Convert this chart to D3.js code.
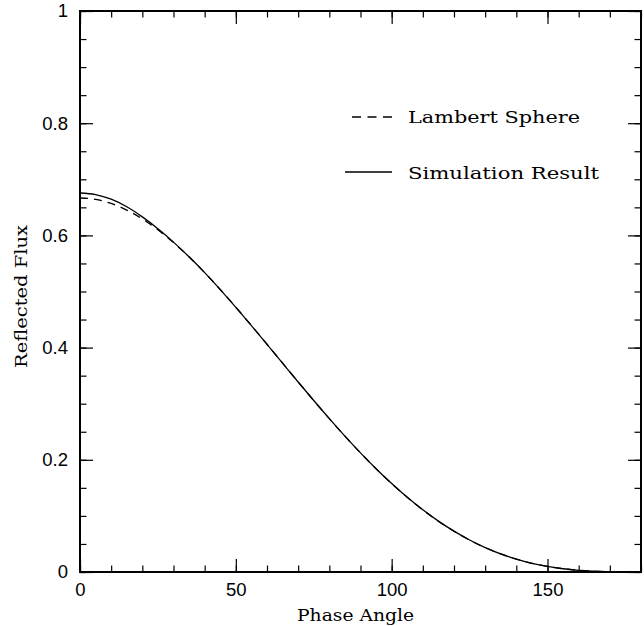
<!DOCTYPE html>
<html><head><meta charset="utf-8">
<script src="https://cdn.jsdelivr.net/npm/d3@7"></script>
<style>body{margin:0;background:#fff}svg{display:block}</style>
</head><body>
<svg id="c" width="644" height="626"></svg>
<script>
const angles = [0,5,10,15,20,25,30,35,40,45,50,55,60,65,70,75,80,85,90,95,100,105,110,115,120,125,130,135,140,145,150,155,160,165,170,175,180];
const lambert = [0.6667,0.6642,0.6569,0.6452,0.6294,0.6100,0.5872,0.5616,0.5336,0.5036,0.4721,0.4394,0.4060,0.3723,0.3387,0.3056,0.2733,0.2421,0.2122,0.1840,0.1575,0.1331,0.1107,0.0906,0.0727,0.0570,0.0435,0.0322,0.0229,0.0155,0.0099,0.0058,0.0030,0.0013,0.0004,0.0001,0.0000];
const simulation = [0.6756,0.6728,0.6645,0.6510,0.6330,0.6118,0.5880,0.5618,0.5336,0.5034,0.4718,0.4391,0.4058,0.3722,0.3387,0.3057,0.2735,0.2423,0.2124,0.1842,0.1577,0.1333,0.1109,0.0907,0.0728,0.0571,0.0436,0.0322,0.0229,0.0155,0.0099,0.0058,0.0030,0.0013,0.0004,0.0001,0.0000];
const xMajor = [0,50,100,150];
const yMajor = [0,0.2,0.4,0.6,0.8,1];
const yMajorLabels = ["0","0.2","0.4","0.6","0.8","1"];
const xTitle = "Phase Angle";
const yTitle = "Reflected Flux";
const legendLabels = ["Lambert Sphere","Simulation Result"];

const svg = d3.select("#c");
const L=80, R=641, T=11, B=572;
const x = d3.scaleLinear().domain([0,180]).range([L,R]);
const y = d3.scaleLinear().domain([0,1]).range([B,T]);
const xMinor = d3.range(0,181,10);
const yMinor = d3.range(0,1.0001,0.05);

const tickFont = "'Liberation Sans', Arial, sans-serif";
const serif = "'DejaVu Serif', serif";

function styleAxis(g){ g.select(".domain").remove(); g.selectAll("line").attr("stroke","#000").attr("stroke-width",1.2); }

// minor ticks
svg.append("g").attr("transform",`translate(0,${B})`).call(d3.axisBottom(x).tickValues(xMinor).tickSize(-6.5).tickFormat("")).call(styleAxis);
svg.append("g").attr("transform",`translate(0,${T})`).call(d3.axisTop(x).tickValues(xMinor).tickSize(-6.5).tickFormat("")).call(styleAxis);
svg.append("g").attr("transform",`translate(${L},0)`).call(d3.axisLeft(y).tickValues(yMinor).tickSize(-6.5).tickFormat("")).call(styleAxis);
svg.append("g").attr("transform",`translate(${R},0)`).call(d3.axisRight(y).tickValues(yMinor).tickSize(-6.5).tickFormat("")).call(styleAxis);
// major ticks
const xb = svg.append("g").attr("transform",`translate(0,${B})`).call(d3.axisBottom(x).tickValues(xMajor).tickSize(-13).tickPadding(11).tickFormat(d3.format("d"))).call(styleAxis);
svg.append("g").attr("transform",`translate(0,${T})`).call(d3.axisTop(x).tickValues(xMajor).tickSize(-13).tickFormat("")).call(styleAxis);
const yl = svg.append("g").attr("transform",`translate(${L},0)`).call(d3.axisLeft(y).tickValues(yMajor).tickSize(-13).tickPadding(12).tickFormat((d,i)=>yMajorLabels[i])).call(styleAxis);
svg.append("g").attr("transform",`translate(${R},0)`).call(d3.axisRight(y).tickValues(yMajor).tickSize(-13).tickFormat("")).call(styleAxis);
svg.selectAll("g text").attr("font-family",tickFont).attr("font-size",18.5).attr("fill","#000");

// frame
svg.append("rect").attr("x",L).attr("y",T).attr("width",R-L).attr("height",B-T)
  .attr("fill","none").attr("stroke","#000").attr("stroke-width",2);

// curves
const line = d3.line().x(d=>x(d[0])).y(d=>y(d[1])).curve(d3.curveMonotoneX);
svg.append("path").datum(angles.map((a,i)=>[a,lambert[i]])).attr("d",line)
  .attr("fill","none").attr("stroke","#000").attr("stroke-width",1.3).attr("stroke-dasharray","8,6");
svg.append("path").datum(angles.map((a,i)=>[a,simulation[i]])).attr("d",line)
  .attr("fill","none").attr("stroke","#000").attr("stroke-width",1.3);

// legend
const lg = svg.append("g");
lg.append("line").attr("x1",352).attr("x2",392).attr("y1",117).attr("y2",117).attr("stroke","#000").attr("stroke-width",1.3).attr("stroke-dasharray","9,6.5");
lg.append("line").attr("x1",345).attr("x2",392).attr("y1",172).attr("y2",172).attr("stroke","#000").attr("stroke-width",1.3);
lg.append("text").attr("x",408).attr("y",123.3).text(legendLabels[0]).attr("font-family",serif).attr("font-size",17.5).attr("textLength",172).attr("lengthAdjust","spacingAndGlyphs");
lg.append("text").attr("x",408).attr("y",179.3).text(legendLabels[1]).attr("font-family",serif).attr("font-size",17.5).attr("textLength",191).attr("lengthAdjust","spacingAndGlyphs");

// axis titles
svg.append("text").attr("x",297).attr("y",620.5).text(xTitle).attr("font-family",serif).attr("font-size",17.5).attr("textLength",117).attr("lengthAdjust","spacingAndGlyphs");
svg.append("text").attr("transform","translate(27,368) rotate(-90)").text(yTitle).attr("font-family",serif).attr("font-size",17.5).attr("textLength",143).attr("lengthAdjust","spacingAndGlyphs");
</script>
</body></html>
